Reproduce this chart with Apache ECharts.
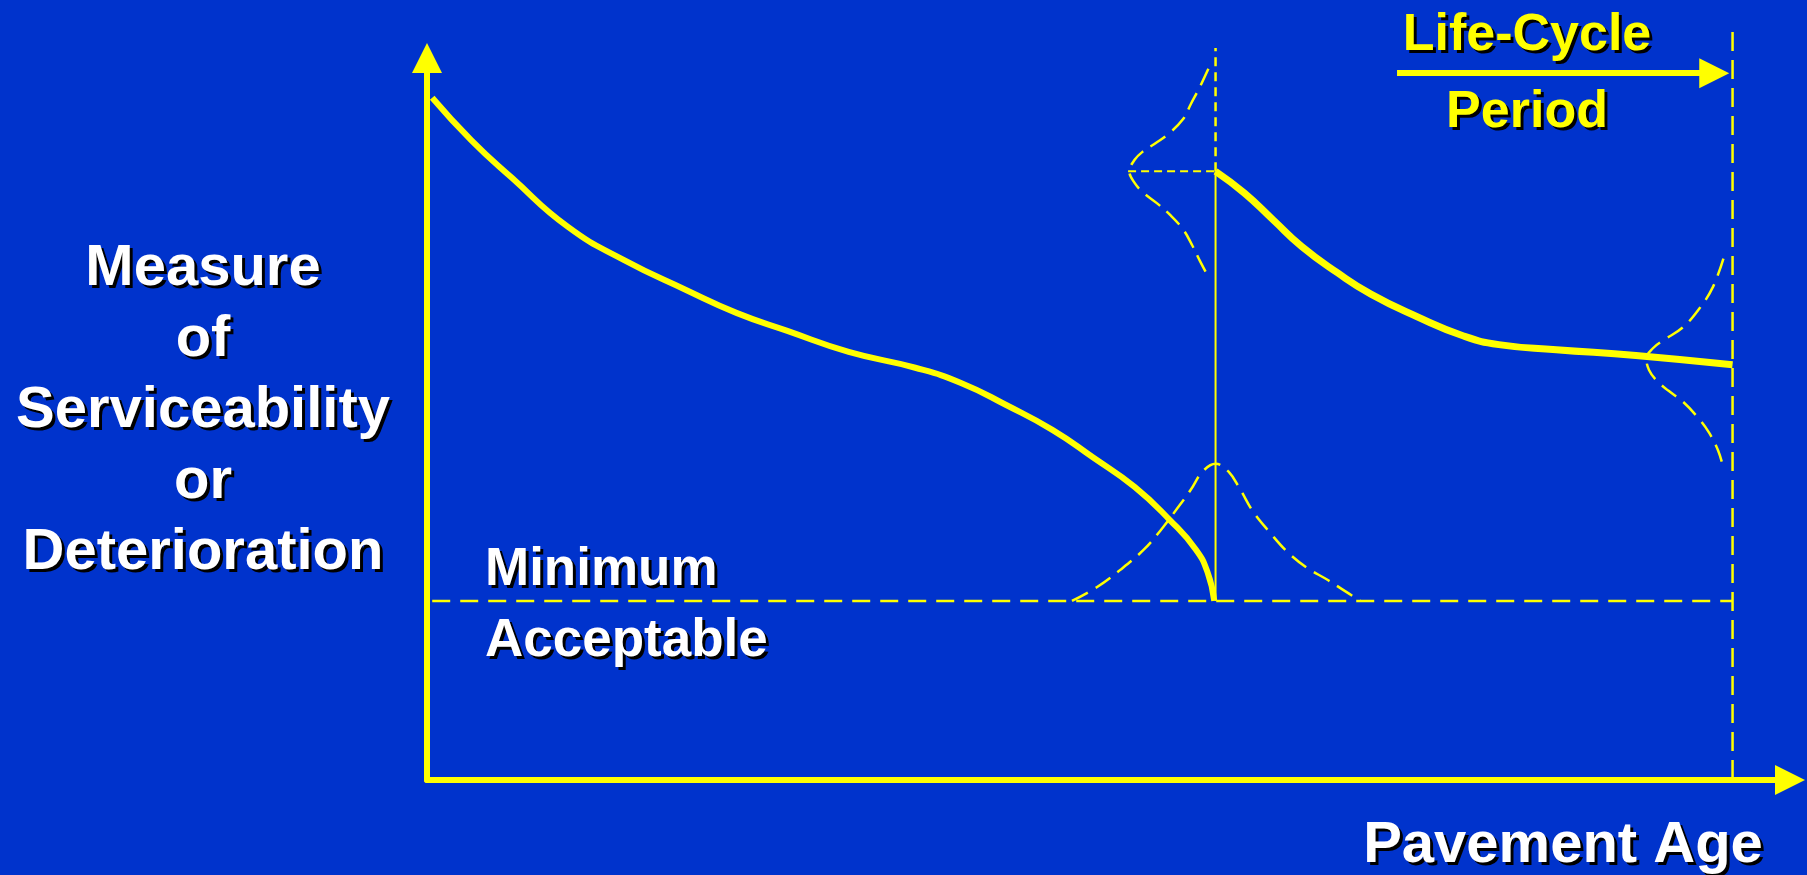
<!DOCTYPE html>
<html>
<head>
<meta charset="utf-8">
<title>Pavement Life-Cycle</title>
<script src="https://cdn.jsdelivr.net/npm/echarts@6/dist/echarts.min.js"></script>
<style>
  html, body { margin: 0; padding: 0; background: #0033CC; }
  #chart { width: 1807px; height: 875px; }
</style>
</head>
<body>
<div id="chart"></div>
<script>
// Serviceability curve of the original pavement (age, serviceability)
const originalCurve = [[0.4,94.5],[3.4,88.6],[6.5,83.4],[10.8,76.6],[15.1,72.0],[19.8,67.9],[23.7,64.7],
  [27.6,62.2],[32.3,59.3],[37.4,57.1],[40.9,55.0],[44.4,51.9],[47.9,48.5],[51.0,44.7],[54.2,40.6],
  [56.9,36.0],[58.9,31.9],[59.8,28.7],[60.3,24.8]];
// Serviceability curve after rehabilitation
const rehabCurve = [[60.4,84.3],[62.6,81.3],[64.8,77.6],[67.0,73.9],[69.7,70.3],[72.3,67.3],[75.8,64.2],
  [79.4,61.5],[82.1,60.3],[86.5,59.6],[92.6,58.8],[100,57.5]];
// Spread of the time at which the minimum is reached
const failureSpread = [[49.4,24.8],[51.3,26.7],[53.1,29.1],[54.9,31.9],[56.2,34.6],[57.5,37.7],[58.5,40.2],
  [59.4,42.7],[60.4,43.8],[61.4,42.7],[62.3,40.2],[63.3,37.1],[64.6,34.2],[65.9,31.6],[67.4,29.4],
  [69.0,27.7],[70.2,26.3],[71.5,24.8]];
// Spread of the serviceability right after rehabilitation
const rehabSpread = [[59.85,98.5],[59.2,96.0],[58.5,93.6],[57.9,91.5],[56.8,89.5],[55.8,88.2],[54.8,87.0],
  [54.2,85.9],[53.8,84.3],[54.2,82.7],[54.9,81.3],[55.9,79.9],[56.9,78.3],[57.9,76.3],[58.6,74.1],
  [59.2,71.9],[59.85,69.7]];
// Spread of the serviceability at the end of the analysis period
const endSpread = [[99.3,72.2],[98.5,68.3],[97.5,65.4],[96.2,62.7],[94.7,60.9],[93.9,59.8],[93.4,58.4],
  [93.6,56.8],[94.2,55.3],[95.1,53.9],[96.2,52.4],[97.3,50.3],[98.2,48.1],[98.9,45.6],[99.3,43.2]];

// Key levels and ages
const minimumAcceptable = 24.8;
const rehabAge = 60.4;
const rehabLevel = 84.3;
const periodEnd = 100;
const periodStart = 0.4;
const rehabGuideTop = 101.4;
const periodGuideTop = 103.6;
const lifeCycleArrow = [[74.3, 97.9], [98.6, 97.9]];
const spreadGuideStart = 53.7;

// Text
const yLabelLines = ['Measure', 'of', 'Serviceability', 'or', 'Deterioration'];
const minimumLines = ['Minimum', 'Acceptable'];
const xLabel = 'Pavement Age';
const periodLabelTop = 'Life-Cycle';
const periodLabelBottom = 'Period';

const YELLOW = '#FFFF00';
const FONT = '"Liberation Sans", Arial, sans-serif';

function lineSeries(data, width, type, z, smooth) {
  return {
    type: 'line', data: data, smooth: smooth || 0, symbol: 'none', showSymbol: false,
    clip: false, silent: true, z: z || 2,
    lineStyle: { color: YELLOW, width: width, type: type || 'solid', cap: 'butt', join: 'round' }
  };
}

// Slide-style text: a black copy offset down-right, then the coloured text
function shadowedText(text, x, y, color, size, align, lineHeight) {
  const base = { text: text, font: 'bold ' + size + 'px ' + FONT, align: align,
    verticalAlign: 'middle', lineHeight: lineHeight || size };
  return [
    { type: 'text', x: x + 3, y: y + 3, silent: true, z: 10,
      style: Object.assign({}, base, { fill: '#000' }) },
    { type: 'text', x: x, y: y, silent: true, z: 11,
      style: Object.assign({}, base, { fill: color }) }
  ];
}

const chart = echarts.init(document.getElementById('chart'), null, { renderer: 'canvas' });
chart.setOption({
  backgroundColor: '#0033CC',
  animation: false,
  grid: { left: 427, right: 17, top: 58, bottom: 95 },
  xAxis: {
    type: 'value', min: 0, max: 104.4,
    axisLine: { show: true, onZero: true, symbol: ['none', 'triangle'], symbolSize: [30, 30],
      lineStyle: { color: YELLOW, width: 6 } },
    axisTick: { show: false }, axisLabel: { show: false }, splitLine: { show: false }
  },
  yAxis: {
    type: 'value', min: 0, max: 100,
    axisLine: { show: true, symbol: ['none', 'triangle'], symbolSize: [30, 30],
      lineStyle: { color: YELLOW, width: 6 } },
    axisTick: { show: false }, axisLabel: { show: false }, splitLine: { show: false }
  },
  series: [
    // minimum acceptable level
    lineSeries([[periodStart, minimumAcceptable], [periodEnd, minimumAcceptable]], 2.5, [18, 10]),
    // end of analysis period
    lineSeries([[periodEnd, periodGuideTop], [periodEnd, 0]], 2.5, [19, 9]),
    // rehabilitation jump
    lineSeries([[rehabAge, minimumAcceptable], [rehabAge, rehabLevel]], 2),
    lineSeries([[rehabAge, rehabLevel], [rehabAge, rehabGuideTop]], 2.5, [9, 6]),
    lineSeries([[spreadGuideStart, rehabLevel], [rehabAge, rehabLevel]], 2, [8, 5]),
    // spreads
    lineSeries(failureSpread, 2.5, [18, 9], 2, 0.4),
    lineSeries(rehabSpread, 2.5, [18, 9], 2, 0.4),
    lineSeries(endSpread, 2.5, [18, 9], 2, 0.4),
    // performance curves
    lineSeries(originalCurve, 6, 'solid', 5, 0.5),
    lineSeries(rehabCurve, 7, 'solid', 5, 0.5),
    // life-cycle period arrow
    {
      type: 'line', data: [], silent: true,
      markLine: {
        silent: true, symbol: ['none', 'triangle'], symbolSize: [30, 30],
        label: { show: false },
        lineStyle: { color: YELLOW, width: 6, type: 'solid' },
        itemStyle: { color: YELLOW },
        data: [[{ coord: lifeCycleArrow[0] }, { coord: lifeCycleArrow[1] }]]
      }
    }
  ],
  graphic: [].concat(
    shadowedText(yLabelLines.join('\n'), 203, 411, '#fff', 58, 'center', 71),
    shadowedText(minimumLines.join('\n'), 485, 606, '#fff', 53, 'left', 71),
    shadowedText(xLabel, 1563, 846, '#fff', 58, 'center'),
    shadowedText(periodLabelTop, 1527, 36, YELLOW, 52, 'center'),
    shadowedText(periodLabelBottom, 1527, 113, YELLOW, 52, 'center')
  )
});
</script>
</body>
</html>
